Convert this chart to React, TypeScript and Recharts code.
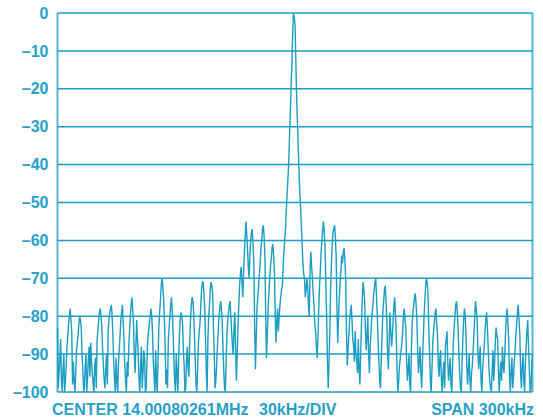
import { LineChart, Line, XAxis, YAxis, CartesianGrid } from "recharts";

// spectrum trace, dBc, one reading per kHz from -150 kHz to +150 kHz
const trace: number[] = [
  -83, -95, -86, -100, -90, -97, -88, -82, -78, -84,
  -92, -100, -89, -85, -80, -83, -94, -99, -90, -96,
  -88, -87, -95, -100, -91, -86, -81, -78, -83, -93,
  -99, -90, -84, -79, -77, -85, -96, -91, -100, -89,
  -81, -77, -86, -97, -92, -88, -80, -75, -82, -95,
  -81, -90, -100, -88, -95, -91, -99, -86, -82, -78,
  -84, -96, -89, -100, -83, -76, -70, -75, -88, -94,
  -86, -80, -75, -84, -97, -90, -100, -85, -79, -82,
  -93, -99, -88, -96, -81, -75, -79, -92, -100, -87,
  -82, -73, -71, -78, -95, -86, -77, -71, -74, -90,
  -97, -88, -80, -76, -81, -94, -100, -85, -79, -76,
  -84, -90, -79, -97, -83, -72, -67, -75, -64, -55,
  -62, -70, -60, -57, -66, -94, -78, -72, -66, -60,
  -56, -64, -91, -78, -70, -65, -61, -68, -87, -78,
  -80, -75, -72, -63, -57, -48, -40, -27, -14, 0,
  -3, -22, -35, -47, -56, -66, -70, -73, -72, -80,
  -63, -70, -77, -84, -91, -78, -68, -60, -55, -62,
  -80, -99, -84, -66, -58, -56, -64, -87, -75, -68,
  -66, -62, -70, -93, -85, -79, -81, -88, -84, -92,
  -86, -98, -82, -71, -76, -89, -80, -95, -84, -78,
  -73, -70, -80, -92, -99, -85, -76, -72, -81, -94,
  -79, -88, -81, -75, -86, -100, -93, -89, -84, -78,
  -83, -97, -90, -100, -82, -77, -74, -81, -95, -88,
  -99, -86, -76, -70, -74, -90, -100, -87, -82, -78,
  -85, -96, -89, -100, -92, -88, -84, -97, -91, -100,
  -87, -80, -76, -83, -95, -100, -86, -78, -85, -98,
  -90, -100, -93, -85, -76, -81, -94, -88, -100, -91,
  -84, -79, -88, -97, -100, -89, -93, -83, -86, -100,
  -92, -88, -95, -84, -78, -87, -100, -91, -96, -89,
  -82, -77, -85, -99, -90, -100, -88, -81, -94, -99,
  -90,
];

// readings taken half a kHz after each entry of trace
const mids: number[] = [
  -99, -91, -97, -94, -100, -93, -85, -80, -81, -98,
  -97, -95, -87, -82, -81, -90, -100, -93, -100, -91,
  -96, -92, -98, -93, -99, -84, -79, -80, -89, -97,
  -94, -98, -81, -78, -80, -92, -100, -97, -93, -85,
  -79, -82, -93, -100, -96, -84, -77, -78, -90, -88,
  -86, -97, -93, -99, -89, -100, -92, -84, -80, -80,
  -92, -100, -97, -91, -79, -72, -72, -81, -98, -99,
  -83, -77, -79, -91, -100, -95, -92, -81, -80, -89,
  -100, -91, -94, -87, -77, -76, -85, -98, -94, -84,
  -77, -71, -74, -86, -100, -80, -73, -72, -83, -99,
  -93, -84, -78, -78, -88, -99, -92, -81, -77, -80,
  -88, -83, -89, -90, -77, -69, -71, -69, -59, -58,
  -67, -64, -58, -61, -82, -86, -75, -69, -62, -57,
  -59, -80, -85, -74, -67, -62, -64, -79, -82, -84,
  -77, -73, -67, -60, -52, -44, -33, -20, -6, -1,
  -12, -28, -41, -51, -61, -69, -75, -70, -77, -68,
  -67, -74, -82, -88, -86, -72, -63, -57, -58, -72,
  -92, -92, -73, -61, -57, -59, -78, -80, -71, -64,
  -63, -65, -84, -89, -81, -77, -86, -92, -90, -95,
  -94, -90, -75, -73, -84, -85, -90, -88, -80, -75,
  -71, -75, -87, -97, -91, -79, -73, -76, -90, -86,
  -84, -85, -77, -80, -95, -97, -91, -87, -80, -81,
  -92, -94, -98, -89, -79, -75, -77, -89, -92, -95,
  -92, -80, -72, -71, -83, -97, -94, -84, -79, -82,
  -93, -91, -97, -95, -99, -86, -92, -94, -98, -93,
  -83, -77, -79, -90, -99, -93, -81, -80, -93, -94,
  -97, -95, -89, -80, -78, -89, -91, -97, -94, -88,
  -81, -83, -94, -99, -95, -97, -87, -85, -95, -95,
  -97, -93, -90, -80, -82, -96, -94, -99, -92, -85,
  -79, -81, -95, -93, -97, -92, -84, -88, -100, -93,
];

const startKHz = -150;
const stepKHz = 1;

const xTicks = [-150, -120, -90, -60, -30, 0, 30, 60, 90, 120, 150];
const yTicks = [0, -10, -20, -30, -40, -50, -60, -70, -80, -90, -100];

const footerLeft = "CENTER 14.00080261MHz";
const footerMid = "30kHz/DIV";
const footerRight = "SPAN 300kHz";

const data: { f: number; v: number }[] = [];
trace.forEach((v, i) => {
  const f = startKHz + i * stepKHz;
  data.push({ f, v });
  if (i < mids.length) data.push({ f: f + stepKHz / 2, v: mids[i] });
});

const blue = "#1c9dc3";
const textBlue = "#28a0c9";
const font = "'Liberation Sans', Arial, sans-serif";

export default function App() {
  return (
    <div style={{ position: "absolute", left: 0, top: 0, width: 543, height: 417, overflow: "hidden", background: "#fff" }}>
      <LineChart
        width={543}
        height={417}
        data={data}
        margin={{ top: 13, right: 10.5, left: 0, bottom: 25 }}
      >
        <CartesianGrid horizontal={false} stroke="#55b6d5" strokeWidth={2} />
        <CartesianGrid vertical={false} stroke={blue} strokeWidth={1.5} />
        <XAxis
          dataKey="f"
          type="number"
          domain={[-150, 150]}
          ticks={xTicks}
          tick={false}
          tickLine={false}
          axisLine={false}
          height={0}
        />
        <YAxis
          type="number"
          domain={[-100, 0]}
          ticks={yTicks}
          width={57.5}
          axisLine={false}
          tickLine={false}
          tickMargin={3}
          interval={0}
          tickFormatter={(v: number) => (v === 0 ? "0" : "\u2013" + Math.abs(v))}
          tick={{ fill: textBlue, fontSize: 16, fontWeight: 700, fontFamily: font }}
        />
        <Line
          type="linear"
          dataKey="v"
          stroke={blue}
          strokeWidth={1.4}
          dot={false}
          isAnimationActive={false}
        />
      </LineChart>
      <svg width={543} height={417} style={{ position: "absolute", left: 0, top: 0, pointerEvents: "none" }}>
        <g fill={textBlue} fontSize={16} fontWeight={700} fontFamily={font}>
          <text x={52} y={415}>{footerLeft}</text>
          <text x={259} y={415}>{footerMid}</text>
          <text x={534} y={415} textAnchor="end">{footerRight}</text>
        </g>
      </svg>
    </div>
  );
}
